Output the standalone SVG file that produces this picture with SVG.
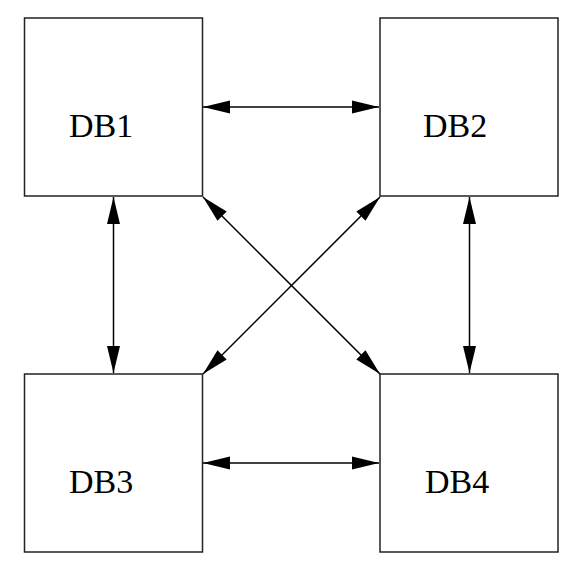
<svg xmlns="http://www.w3.org/2000/svg" width="576" height="576" viewBox="0 0 576 576">
<style>
.box{fill:#fff;stroke:#222;stroke-width:1.5}
.lbl{font-family:"Liberation Serif","Times New Roman",serif;font-size:34px;fill:#000}
.conn{stroke:#000;stroke-width:1.5;fill:none;marker-start:url(#ah);marker-end:url(#ah)}
</style>
<defs>
<marker id="ah" markerUnits="userSpaceOnUse" markerWidth="28" markerHeight="14" refX="27" refY="7" orient="auto-start-reverse" viewBox="0 0 28 14">
<path d="M0,0.5 L27,7 L0,13.5 Z" fill="#000"/>
</marker>
</defs>
<rect width="576" height="576" fill="#fff"/>
<g id="DB1"><rect class="box" x="24.5" y="18" width="178" height="178"/><text class="lbl" x="69" y="137">DB1</text></g>
<g id="DB2"><rect class="box" x="380" y="18" width="178" height="178"/><text class="lbl" x="423" y="137">DB2</text></g>
<g id="DB3"><rect class="box" x="24.5" y="374" width="178" height="178"/><text class="lbl" x="69" y="493">DB3</text></g>
<g id="DB4"><rect class="box" x="380" y="374" width="178" height="178"/><text class="lbl" x="425" y="493">DB4</text></g>
<g id="connectors">
<line class="conn" x1="203" y1="107" x2="379" y2="107"/>
<line class="conn" x1="203" y1="463" x2="379" y2="463"/>
<line class="conn" x1="113.5" y1="197" x2="113.5" y2="373"/>
<line class="conn" x1="469.5" y1="197" x2="469.5" y2="373"/>
<line class="conn" x1="203" y1="197" x2="380" y2="374"/>
<line class="conn" x1="380" y1="197" x2="203" y2="374"/>
</g>
</svg>
